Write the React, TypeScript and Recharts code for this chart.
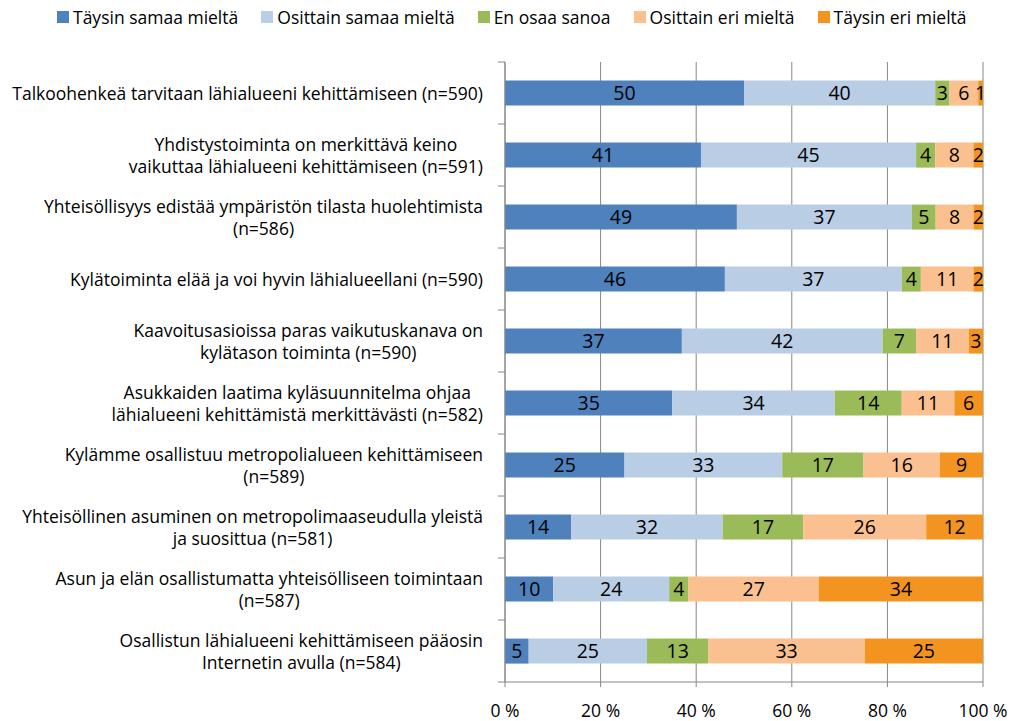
import React from 'react';
import {
  BarChart,
  Bar,
  XAxis,
  YAxis,
  CartesianGrid,
  LabelList
} from 'recharts';

// Statements (line breaks as in the original chart)
const categories = [
  'Talkoohenkeä tarvitaan lähialueeni kehittämiseen (n=590)',
  'Yhdistystoiminta on merkittävä keino\nvaikuttaa lähialueeni kehittämiseen (n=591)',
  'Yhteisöllisyys edistää ympäristön tilasta huolehtimista\n(n=586)',
  'Kylätoiminta elää ja voi hyvin lähialueellani (n=590)',
  'Kaavoitusasioissa paras vaikutuskanava on\nkylätason toiminta (n=590)',
  'Asukkaiden laatima kyläsuunnitelma ohjaa\nlähialueeni kehittämistä merkittävästi (n=582)',
  'Kylämme osallistuu metropolialueen kehittämiseen\n(n=589)',
  'Yhteisöllinen asuminen on metropolimaaseudulla yleistä\nja suosittua (n=581)',
  'Asun ja elän osallistumatta yhteisölliseen toimintaan\n(n=587)',
  'Osallistun lähialueeni kehittämiseen pääosin\nInternetin avulla (n=584)'
];

const seriesNames = [
  'Täysin samaa mieltä',
  'Osittain samaa mieltä',
  'En osaa sanoa',
  'Osittain eri mieltä',
  'Täysin eri mieltä'
];

const taysinSamaa = [50, 41, 49, 46, 37, 35, 25, 14, 10, 5];
const osittainSamaa = [40, 45, 37, 37, 42, 34, 33, 32, 24, 25];
const enOsaa = [3, 4, 5, 4, 7, 14, 17, 17, 4, 13];
const osittainEri = [6, 8, 8, 11, 11, 11, 16, 26, 27, 33];
const taysinEri = [1, 2, 2, 2, 3, 6, 9, 12, 34, 25];

const xTicks = [0, 0.2, 0.4, 0.6, 0.8, 1];

const COLORS = ['#4F81BD', '#B9CDE5', '#9BBB59', '#FAC090', '#F39420'];
const KEYS = ['s1', 's2', 's3', 's4', 's5'];
const FONT = '"Open Sans", "Liberation Sans", sans-serif';
const LABEL_SIZE = 17.5;
const GRID = '#868686';
const BAND = 62; // plot height / number of categories

const data = categories.map((name, i) => ({
  name,
  s1: taysinSamaa[i],
  s2: osittainSamaa[i],
  s3: enOsaa[i],
  s4: osittainEri[i],
  s5: taysinEri[i]
}));

let ctx: CanvasRenderingContext2D | null = null;
const textWidth = (s: string) => {
  if (!ctx) ctx = document.createElement('canvas').getContext('2d');
  if (!ctx) return s.length * 8;
  ctx.font = `${LABEL_SIZE}px ${FONT}`;
  return ctx.measureText(s).width;
};

// multi-line category label: block right aligned, lines centred in the block
const CategoryTick = (props: any) => {
  const { x, y, payload, index } = props;
  const lines: string[] = String(payload.value).split('\n');
  const lh = 22;
  const start = y - ((lines.length - 1) * lh) / 2;
  const right = x - 14;
  const maxW = Math.max(...lines.map(textWidth));
  const cx = right - maxW / 2;
  const axisX = x + 8;
  return (
    <g>
      {index === 0 && (
        <line x1={axisX - 7} x2={axisX} y1={y - BAND / 2} y2={y - BAND / 2} stroke={GRID} />
      )}
      <line x1={axisX - 7} x2={axisX} y1={y + BAND / 2} y2={y + BAND / 2} stroke={GRID} />
      {lines.map((line, i) => (
        <text
          key={i}
          x={cx}
          y={start + i * lh}
          textAnchor="middle"
          dominantBaseline="central"
          fill="#000"
          fontSize={LABEL_SIZE}
          fontFamily={FONT}
        >
          {line}
        </text>
      ))}
    </g>
  );
};

const ChartLegend = () => (
  <div
    style={{
      position: 'absolute',
      top: 6,
      left: 57,
      display: 'flex',
      gap: 23,
      fontFamily: FONT,
      fontSize: LABEL_SIZE,
      lineHeight: '22px',
      color: '#000',
      whiteSpace: 'nowrap'
    }}
  >
    {seriesNames.map((n, i) => (
      <div key={n} style={{ display: 'flex', alignItems: 'center' }}>
        <span
          style={{
            display: 'inline-block',
            width: 12,
            height: 12,
            background: COLORS[i],
            marginRight: 4
          }}
        />
        {n}
      </div>
    ))}
  </div>
);

export default function App() {
  return (
    <div style={{ position: 'absolute', left: 0, top: 0, width: 1012, height: 721, background: '#fff' }}>
      <ChartLegend />
      <BarChart
        width={1012}
        height={721}
        data={data}
        layout="vertical"
        stackOffset="expand"
        barCategoryGap="30%"
        margin={{ top: 62, right: 29, bottom: 0, left: 0 }}
      >
        <CartesianGrid horizontal={false} vertical stroke={GRID} strokeWidth={1} />
        <XAxis
          type="number"
          domain={[0, 1]}
          ticks={xTicks}
          tickFormatter={(v: number) => `${Math.round(v * 100)} %`}
          axisLine={{ stroke: GRID }}
          tickLine={{ stroke: GRID }}
          tickSize={5}
          tickMargin={18}
          height={39}
          tick={{ fill: '#000', fontSize: LABEL_SIZE, fontFamily: FONT }}
          interval={0}
        />
        <YAxis
          type="category"
          dataKey="name"
          width={505}
          axisLine={{ stroke: GRID }}
          tickLine={false}
          tick={<CategoryTick />}
          interval={0}
        />
        {KEYS.map((k, i) => (
          <Bar
            key={k}
            dataKey={k}
            name={seriesNames[i]}
            stackId="a"
            fill={COLORS[i]}
            isAnimationActive={false}
          >
            <LabelList
              dataKey={k}
              position="center"
              fill="#000"
              fontSize={19.5}
              fontFamily={FONT}
            />
          </Bar>
        ))}
      </BarChart>
    </div>
  );
}
